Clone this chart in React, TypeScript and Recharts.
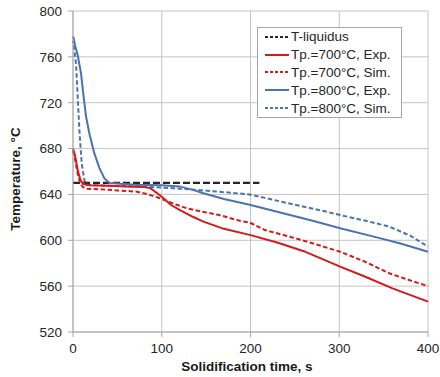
import React from 'react';
import { LineChart, Line, XAxis, YAxis, CartesianGrid, Legend } from 'recharts';

const xTicks = [0, 100, 200, 300, 400];
const yTicks = [520, 560, 600, 640, 680, 720, 760, 800];

const liqTime = [0, 210];
const liqTemp = [650, 650];

const exp700Time = [0, 2.3, 5.3, 8.4, 11, 15, 20, 40, 60, 80, 87, 95, 102, 110, 120, 135, 147, 170, 199, 230, 260, 301, 330, 360, 400];
const exp700Temp = [680, 674, 661, 652.6, 649.5, 648.5, 648, 647.5, 647, 646.5, 645.5, 641, 636.7, 631, 626.5, 620.5, 616.3, 610, 604.7, 598, 590.5, 577, 568, 558, 546.5];

const sim700Time = [0, 2.5, 5.3, 8, 11, 15, 30, 50, 71, 85, 98, 113, 128, 145, 165, 188, 199, 216, 240, 263, 301, 330, 357, 380, 400];
const sim700Temp = [678, 670, 658, 650, 646.5, 645, 644.5, 643.5, 642.5, 640, 636.7, 632, 628, 625, 622, 617, 615.5, 609, 604, 599, 590, 581, 571, 565, 560];

const exp800Time = [0, 0.4, 2.3, 5.3, 9, 12, 14.7, 18.5, 24, 29.8, 35.4, 41, 70, 100, 120, 135, 147, 170, 199, 240, 270, 301, 340, 370, 400];
const exp800Temp = [776, 777.6, 770, 761.6, 745.7, 725, 708, 693, 676, 663, 654, 650, 648.5, 648, 647, 644, 641, 636, 631, 623, 617, 610.5, 603, 597, 590];

const sim800Time = [0, 0.4, 3.4, 5.3, 7.2, 9.8, 12.9, 16, 20, 40, 70, 100, 120, 147, 170, 199, 216, 250, 280, 301, 330, 356, 380, 400];
const sim800Temp = [772, 774, 754, 725, 696, 667, 652, 648.5, 648, 647.5, 647, 646, 645, 643.5, 642, 640, 637, 631, 626, 622, 617, 612, 604, 594.5];

const zip = (t: number[], v: number[]) => t.map((x, i) => ({ t: x, v: v[i] }));

const RED = '#d41a1a';
const BLUE = '#4a74ad';
const BLACK = '#262626';

const legendItems = [
  { name: 'T-liquidus', color: BLACK, dash: '3 2' },
  { name: 'Tp.=700°C, Exp.', color: RED, dash: '' },
  { name: 'Tp.=700°C, Sim.', color: RED, dash: '3 2' },
  { name: 'Tp.=800°C, Exp.', color: BLUE, dash: '' },
  { name: 'Tp.=800°C, Sim.', color: BLUE, dash: '3 2' },
];

const font = '"Liberation Sans", Arial, sans-serif';

const LegendBox = () => (
  <div
    style={{
      width: 145,
      height: 91,
      boxSizing: 'border-box',
      border: '1px solid #a6a6a6',
      background: '#fff',
      fontFamily: font,
      fontSize: 13.5,
      color: '#262626',
    }}
  >
    {legendItems.map((it) => (
      <div key={it.name} style={{ height: 17.8, display: 'flex', alignItems: 'center', paddingLeft: 7 }}>
        <svg width={25} height={6} style={{ display: 'block' }}>
          <line x1={0} y1={3} x2={24} y2={3} stroke={it.color} strokeWidth={2} strokeDasharray={it.dash || undefined} />
        </svg>
        <span style={{ marginLeft: 1, lineHeight: '15px', whiteSpace: 'nowrap' }}>{it.name}</span>
      </div>
    ))}
  </div>
);

export default function App() {
  return (
    <div style={{ position: 'absolute', left: 0, top: 0, width: 440, height: 377, background: '#fff' }}>
      <LineChart width={440} height={377} margin={{ top: 11, right: 12, bottom: 0, left: 0 }}>
        <CartesianGrid stroke="#c4c4c4" strokeWidth={1} />
        <XAxis
          type="number"
          dataKey="t"
          domain={[0, 400]}
          ticks={xTicks}
          height={45}
          tickSize={5}
          tickMargin={6}
          stroke="#a6a6a6"
          tick={{ fill: '#262626', fontSize: 13.5, fontFamily: font }}
          label={{
            content: () => (
              <text x={247} y={371} textAnchor="middle" fontFamily={font} fontSize={13.5} fontWeight="bold" fill="#1a1a1a">
                Solidification time, s
              </text>
            ),
          }}
        />
        <YAxis
          type="number"
          domain={[520, 800]}
          ticks={yTicks}
          width={73}
          tickSize={5}
          tickMargin={6}
          stroke="#a6a6a6"
          tick={{ fill: '#262626', fontSize: 13.5, fontFamily: font }}
          label={{
            content: () => (
              <text
                x={19.5}
                y={179}
                transform="rotate(-90 19.5 179)"
                textAnchor="middle"
                fontFamily={font}
                fontSize={13.5}
                fontWeight="bold"
                fill="#1a1a1a"
              >
                Temperature, °C
              </text>
            ),
          }}
        />
        <Legend
          layout="horizontal"
          verticalAlign="middle"
          align="center"
          content={() => <LegendBox />}
          wrapperStyle={{ left: 257, top: 27, width: 145, height: 91 }}
        />
        <Line data={zip(liqTime, liqTemp)} dataKey="v" name="T-liquidus" stroke={BLACK} strokeWidth={2.2} strokeDasharray="7 3" dot={false} isAnimationActive={false} />
        <Line data={zip(sim800Time, sim800Temp)} dataKey="v" name="Tp.=800°C, Sim." stroke={BLUE} strokeWidth={2} strokeDasharray="4.5 2.5" dot={false} isAnimationActive={false} />
        <Line data={zip(exp800Time, exp800Temp)} dataKey="v" name="Tp.=800°C, Exp." stroke={BLUE} strokeWidth={2} dot={false} isAnimationActive={false} />
        <Line data={zip(sim700Time, sim700Temp)} dataKey="v" name="Tp.=700°C, Sim." stroke={RED} strokeWidth={2} strokeDasharray="4.5 2.5" dot={false} isAnimationActive={false} />
        <Line data={zip(exp700Time, exp700Temp)} dataKey="v" name="Tp.=700°C, Exp." stroke={RED} strokeWidth={2} dot={false} isAnimationActive={false} />
      </LineChart>
    </div>
  );
}
